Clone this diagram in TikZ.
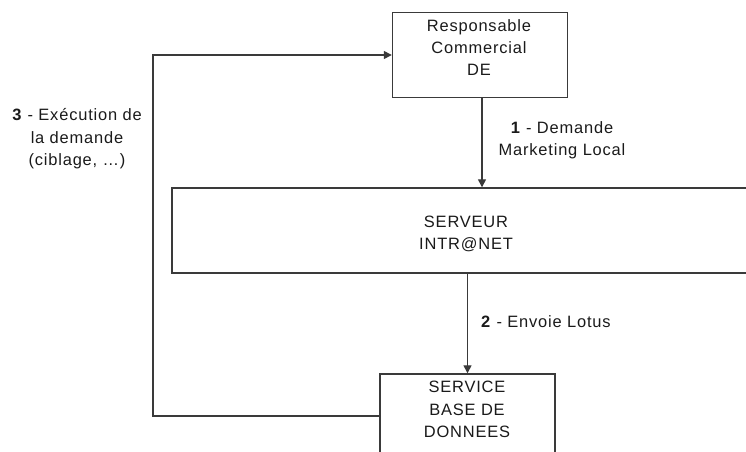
\documentclass[tikz,border=0pt]{standalone}
\usepackage{fontspec}
\setmainfont{Liberation Sans}[LetterSpace=5]
\usetikzlibrary{arrows.meta}
\definecolor{linecol}{HTML}{3A3A3A}
\definecolor{txtcol}{HTML}{1A1A1A}
\begin{document}
\begin{tikzpicture}[x=1bp,y=-1bp,
  box/.style={draw=linecol, line width=1.4bp, fill=white, inner sep=0},
  lbl/.style={font=\fontsize{16.5}{22.5}\selectfont, text=txtcol, align=center, inner sep=0},
  conn/.style={draw=linecol, line width=1.4bp},
  arr/.style={conn, -{Triangle[width=8bp,length=8bp]}}]
\useasboundingbox (0,0) rectangle (746,452);
\clip (0,0) rectangle (746,452);
% boxes
\node[box, minimum width=175bp, minimum height=85bp] (top) at (480,55) {};
\node[lbl] (toptxt) at (479,47.5) {Responsable\\Commercial\\DE};
\node[box, minimum width=640bp, minimum height=85bp] (serveur) at (492,230.5) {};
\node[lbl] (serveurtxt) at (466,234) {SERVEUR\\INTR@NET};
\node[box, minimum width=175bp, minimum height=100bp] (service) at (467.5,424) {};
\node[lbl] (servicetxt) at (467,409.5) {SERVICE\\BASE DE\\DONNEES};
% connectors
\coordinate (loopbl) at (153,416);
\draw[arr] ([xshift=2bp]top.south) -- ([xshift=2bp]top.south |- serveur.north);
\draw[arr] (service.north |- serveur.south) -- (service.north);
\draw[arr] (service.west |- loopbl) -- (loopbl) -- (loopbl |- top.west) -- (top.west);
% labels
\node[lbl] (l1) at (562,140.5) {\textbf{1} - Demande\\Marketing Local};
\node[lbl, anchor=west] (l2) at (481,322) {\textbf{2} - Envoie Lotus};
\node[lbl] (l3) at (77,139) {\textbf{3} - Exécution de\\la demande\\(ciblage, \ldots)};
\end{tikzpicture}
\end{document}
